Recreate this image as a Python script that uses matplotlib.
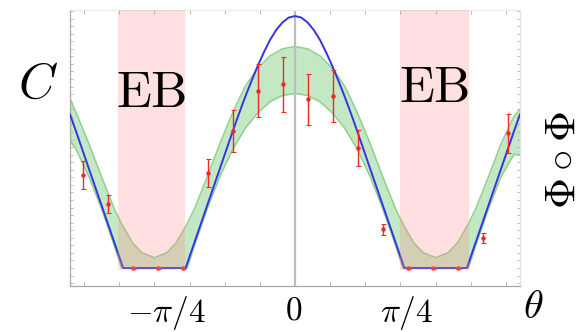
import numpy as np
import matplotlib
matplotlib.use("Agg")
import matplotlib.pyplot as plt
from matplotlib.transforms import ScaledTranslation

plt.rcParams['mathtext.fontset'] = 'cm'
plt.rcParams['font.family'] = ['DejaVu Serif']

# ---- data (theta in degrees) ----
theta_blue = [-72, -70, -68, -66, -64, -62, -60, -58, -56, -55, -35, -34, -32, -30, -28, -26,
              -24, -22, -20, -18, -16, -14, -12, -10, -8, -6, -4, -2, 0,
              2, 4, 6, 8, 10, 12, 14, 16, 18, 20, 22, 24, 26, 28, 30, 32, 34, 35,
              55, 56, 58, 60, 62, 64, 66, 68, 70, 72]
c_blue = [0.610, 0.540, 0.468, 0.396, 0.324, 0.252, 0.180, 0.108, 0.036, 0.0, 0.0, 0.036, 0.108,
          0.180, 0.252, 0.324, 0.396, 0.468, 0.540, 0.610, 0.677, 0.740, 0.800, 0.855, 0.905,
          0.945, 0.975, 0.994, 1.000,
          0.994, 0.975, 0.945, 0.905, 0.855, 0.800, 0.740, 0.677, 0.610, 0.540, 0.468, 0.396,
          0.324, 0.252, 0.180, 0.108, 0.036, 0.0,
          0.0, 0.036, 0.108, 0.180, 0.252, 0.324, 0.396, 0.468, 0.540, 0.610]

theta_band = [-72, -70, -66, -62, -58, -55.5, -52, -49, -45, -41, -38, -34.5, -32, -28, -24,
              -20, -16, -12, -8, -4, 0, 4, 8, 12, 16, 20, 24, 28, 32, 34.5, 38, 41, 45, 49,
              52, 55.5, 58, 62, 66, 70, 72]
band_upper = [0.672, 0.615, 0.495, 0.365, 0.240, 0.176, 0.100, 0.061, 0.041, 0.061, 0.100,
              0.176, 0.240, 0.365, 0.495, 0.615, 0.720, 0.792, 0.842, 0.870, 0.879, 0.870,
              0.842, 0.792, 0.720, 0.615, 0.495, 0.365, 0.240, 0.176, 0.100, 0.061, 0.041,
              0.061, 0.100, 0.176, 0.240, 0.365, 0.495, 0.600, 0.630]
band_lower = [0.505, 0.470, 0.364, 0.238, 0.095, 0.0, 0.0, 0.0, 0.0, 0.0, 0.0, 0.0, 0.095,
              0.238, 0.364, 0.470, 0.553, 0.615, 0.660, 0.685, 0.693, 0.685, 0.660, 0.615,
              0.553, 0.470, 0.364, 0.238, 0.095, 0.0, 0.0, 0.0, 0.0, 0.0, 0.0, 0.0, 0.095,
              0.238, 0.364, 0.450, 0.450]

theta_pts = [-68, -60, -52, -44, -36, -28, -20, -12, -4, 4, 12, 20, 28, 36, 44, 52, 60, 68]
c_pts = [0.369, 0.254, 0.0, 0.0, 0.0, 0.376, 0.544, 0.704, 0.729, 0.669, 0.684, 0.475,
         0.153, 0.0, 0.0, 0.0, 0.120, 0.535]
c_err = [0.055, 0.036, 0.003, 0.003, 0.003, 0.056, 0.082, 0.105, 0.110, 0.100, 0.103,
         0.072, 0.022, 0.003, 0.003, 0.003, 0.020, 0.077]

eb_regions = [(-56.8, -35.1), (33.7, 55.6)]

xtick_pos = [-45, 0, 45]
xtick_labels = [r'$-\pi/4$', r'$0$', r'$\pi/4$']

# ---- figure ----
W, H = 585, 332
fig = plt.figure(figsize=(W / 100, H / 100), dpi=100)
ax = fig.add_axes([70 / W, 1 - 286 / H, 450 / W, 276 / H])

ax.set_xlim(-72, 72)
ax.set_ylim(-0.0714, 1.024)

ax.fill_between(theta_band, band_lower, band_upper, color='#c4e8c4', lw=0, zorder=1)
ax.plot(theta_band, band_upper, color='#8fd08f', lw=1.1, zorder=2)
ax.plot(theta_band, band_lower, color='#8fd08f', lw=1.1, zorder=2)

ax.axvline(0, color='#bdbdbd', lw=1.6, zorder=2.5)

ax.plot(theta_blue, c_blue, color='#3434e6', lw=1.4, zorder=3)

ax.errorbar(theta_pts, c_pts, yerr=c_err, fmt='o', color='#f02828', ms=2.2,
            elinewidth=1.0, capsize=1.8, capthick=0.8, zorder=4)

for a, b in eb_regions:
    ax.fill_between([a, b], [-0.006, -0.006], [1.1, 1.1], color=(1.0, 0.55, 0.55),
                    alpha=0.28, lw=0, zorder=5)

# ticks
ax.set_xticks(np.arange(-67.5, 72, 11.25), minor=True)
ax.set_xticks(xtick_pos)
ax.set_xticklabels(xtick_labels, fontsize=24)
ax.set_yticks(np.arange(-0.06, 1.03, 0.03))
ax.set_yticklabels([])
ax.tick_params(axis='x', which='both', direction='in', length=3, width=0.6,
               color='#aaaaaa', top=True, pad=6)
ax.tick_params(axis='y', direction='in', length=2.5, width=0.6, color='#b0b0b0',
               right=True)
for lbl, dx in zip(ax.get_xticklabels(), [12.5, -1, -29]):
    lbl.set_transform(lbl.get_transform() + ScaledTranslation(dx / 100, 0, fig.dpi_scale_trans))

ax.spines['left'].set_color('#a8a8a8')
ax.spines['bottom'].set_color('#a8a8a8')
ax.spines['top'].set_color('#ececec')
ax.spines['right'].set_color('#e4e4e4')
for s in ax.spines.values():
    s.set_linewidth(0.9)

# texts
ax.text(-46, 0.695, r'$\mathrm{EB}$', fontsize=37, ha='center', va='center', zorder=6)
ax.text(44.7, 0.715, r'$\mathrm{EB}$', fontsize=37, ha='center', va='center', zorder=6)
fig.text(38 / W, 1 - 84 / H, r'$C$', fontsize=36, ha='center', va='center')
fig.text(533 / W, 1 - 307 / H, r'$\theta$', fontsize=29, ha='center', va='center')
fig.text(584 / W, 1 - 160 / H, r'$\Phi\circ\Phi$', fontsize=31, ha='right', va='center',
         rotation=90)

fig.savefig('out.png', dpi=100)
